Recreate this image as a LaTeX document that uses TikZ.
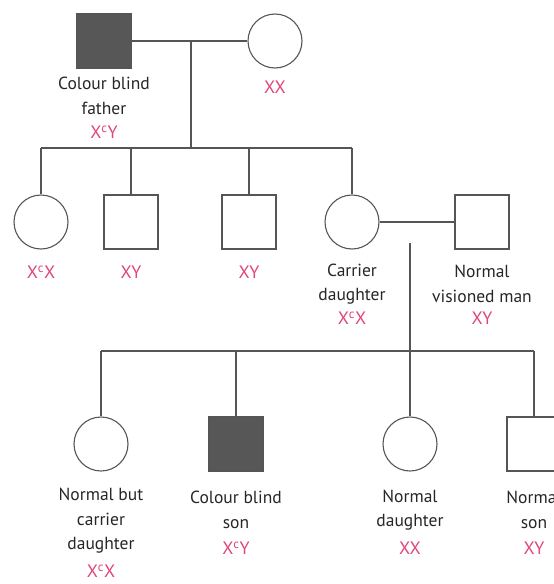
\documentclass[tikz,border=0pt]{standalone}
\usepackage{fontspec}
\setmainfont{PT Sans}
\definecolor{gline}{HTML}{555555}
\definecolor{gfill}{HTML}{575757}
\definecolor{geno}{HTML}{E0457B}
\tikzset{
  male/.style={draw=gline, line width=1.1pt, rectangle, minimum size=54pt, inner sep=0pt},
  female/.style={draw=gline, line width=1.1pt, circle, minimum size=54pt, inner sep=0pt},
  affected/.style={fill=gfill},
  lbl/.style={font=\fontsize{17.5}{24.5}\selectfont, text=black!85, align=center, inner sep=0pt},
  gt/.style={font=\fontsize{18}{20}\selectfont, text=geno, inner sep=0pt},
  link/.style={draw=gline, line width=1.1pt}
}
\begin{document}
\begin{tikzpicture}[x=1pt,y=-1pt]
\useasboundingbox (0,0) rectangle (554,584);
\clip (0,0) rectangle (554,584);
% first generation
\node[male, affected] (F) at (104,41) {};
\node[female] (M) at (275,41) {};
\node[lbl] (Flbl) at (104,96) {Colour blind\\father};
\node[gt] (Fgt) at (104,132) {X\textsuperscript{c}Y};
\node[gt] (Mgt) at (275,87) {XX};
\coordinate (FM) at (191,41);
\coordinate (sib) at (191,148);
\path[link] (F) -- (M);
\path[link] (FM) -- (sib);
% second generation
\node[female] (C1) at (41,222) {};
\node[male] (C2) at (131,222) {};
\node[male] (C3) at (249,222) {};
\node[female] (C4) at (352,222) {};
\node[male] (P) at (482,222) {};
\coordinate (s1) at (41,148);
\coordinate (s2) at (131,148);
\coordinate (s3) at (249,148);
\coordinate (s4) at (352,148);
\path[link] (s1) -- (s4);
\path[link] (s1) -- (C1);
\path[link] (s2) -- (C2);
\path[link] (s3) -- (C3);
\path[link] (s4) -- (C4);
\path[link] (C4) -- (P);
\node[gt] (C1gt) at (41,272) {X\textsuperscript{c}X};
\node[gt] (C2gt) at (131,272) {XY};
\node[gt] (C3gt) at (249,272) {XY};
\node[lbl] (C4lbl) at (352,284) {Carrier\\daughter};
\node[gt] (C4gt) at (352,318) {X\textsuperscript{c}X};
\node[lbl] (Plbl) at (482,284) {Normal\\visioned man};
\node[gt] (Pgt) at (482,318) {XY};
% third generation
\coordinate (CP) at (410,243);
\coordinate (sib2) at (410,351);
\coordinate (t1) at (101,351);
\coordinate (t2) at (236,351);
\coordinate (t4) at (534,351);
\node[female] (G1) at (101,444) {};
\node[male, affected] (G2) at (236,444) {};
\node[female] (G3) at (410,444) {};
\node[male] (G4) at (534,444) {};
\path[link] (t1) -- (t4);
\path[link] (CP) -- (G3);
\path[link] (t1) -- (G1);
\path[link] (t2) -- (G2);
\path[link] (t4) -- (G4);
\node[lbl] (G1lbl) at (101,521) {Normal but\\carrier\\daughter};
\node[gt] (G1gt) at (101,571) {X\textsuperscript{c}X};
\node[lbl] (G2lbl) at (236,510) {Colour blind\\son};
\node[gt] (G2gt) at (236,548) {X\textsuperscript{c}Y};
\node[lbl] (G3lbl) at (410,510) {Normal\\daughter};
\node[gt] (G3gt) at (410,548) {XX};
\node[lbl] (G4lbl) at (534,510) {Normal\\son};
\node[gt] (G4gt) at (534,548) {XY};
\end{tikzpicture}
\end{document}
